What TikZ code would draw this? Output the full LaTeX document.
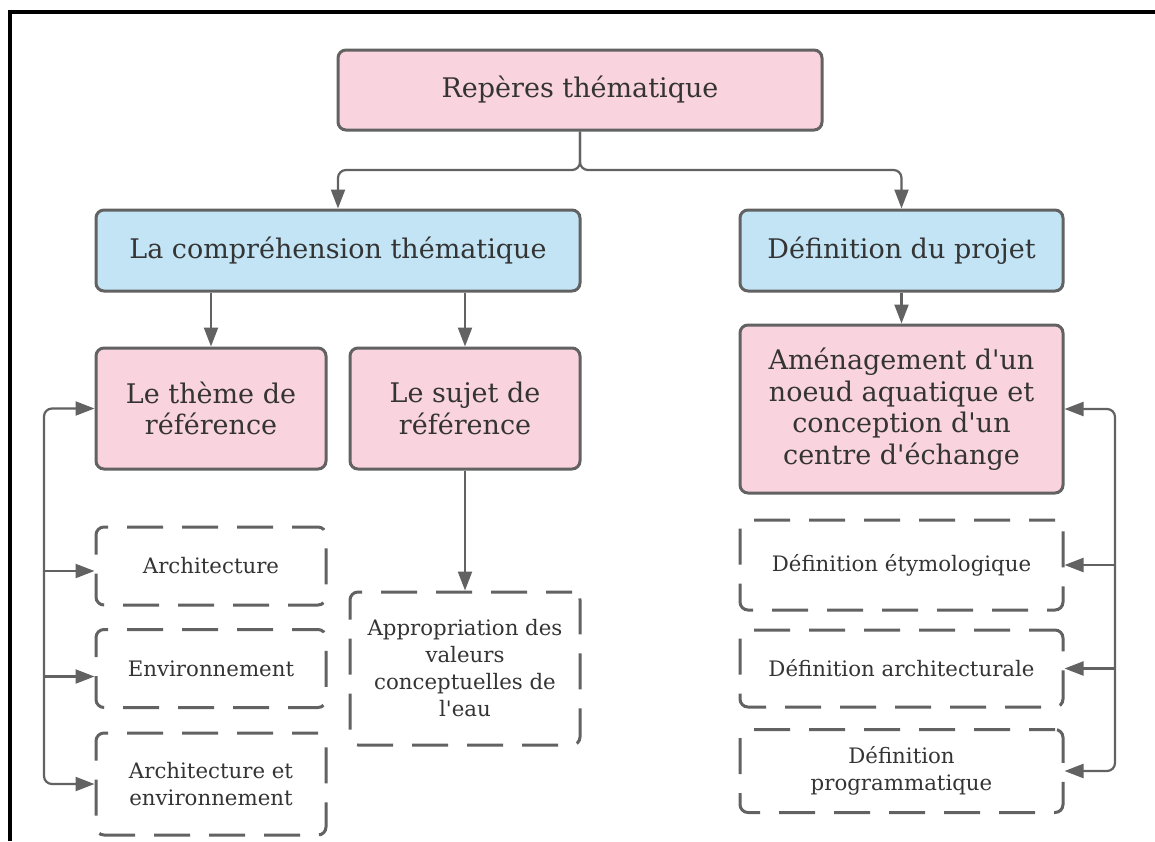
\documentclass[tikz,border=0pt]{standalone}
\usepackage{fontspec}
\setmainfont{DejaVu Serif}[Ligatures=TeXOff]
\usetikzlibrary{arrows.meta,calc}
\definecolor{pinkfill}{RGB}{249,211,222}
\definecolor{bluefill}{RGB}{194,228,245}
\definecolor{edgegray}{RGB}{98,98,98}
\definecolor{txtgray}{RGB}{52,52,52}
\tikzset{
  bigbox/.style={draw=edgegray, line width=3pt, rounded corners=8pt, align=center,
    text=txtgray, font=\fontsize{27}{31.5}\selectfont, inner sep=0pt},
  pinkbox/.style={bigbox, fill=pinkfill},
  bluebox/.style={bigbox, fill=bluefill},
  dashbox/.style={draw=edgegray, line width=3pt, rounded corners=8pt, align=center,
    text=txtgray, font=\fontsize{21.3}{27}\selectfont, inner sep=0pt,
    dash pattern=on 36pt off 19pt, dash phase=10pt},
  arr/.style={draw=edgegray, line width=2.2pt, -{Triangle[length=19pt,width=14pt]}},
}
\begin{document}
\begin{tikzpicture}[x=1pt,y=-1pt]
\useasboundingbox (0,0) rectangle (1155,841);
\fill[white] (0,0) rectangle (1155,841);
\draw[black, line width=4pt] (10,841) -- (10,12) -- (1155,12);

\node[pinkbox, minimum width=484pt, minimum height=80pt] (top) at (580,90) {Repères thématique};
\node[bluebox, minimum width=484pt, minimum height=81pt] (comp) at (338,250.5) {La compréhension thématique};
\node[bluebox, minimum width=323pt, minimum height=81pt] (def) at (901.5,250.5) {Définition du projet};
\node[pinkbox, minimum width=230pt, minimum height=121pt] (theme) at (211,408.5) {Le thème de\\référence};
\node[pinkbox, minimum width=230pt, minimum height=121pt] (sujet) at (465,408.5) {Le sujet de\\référence};
\node[pinkbox, minimum width=323pt, minimum height=168pt] (amen) at (901.5,409) {Aménagement d'un\\noeud aquatique et\\conception d'un\\centre d'échange};

\node[dashbox, minimum width=230pt, minimum height=78pt] (arch) at (211,566) {Architecture};
\node[dashbox, minimum width=230pt, minimum height=78pt] (env) at (211,668.5) {Environnement};
\node[dashbox, minimum width=230pt, minimum height=102pt] (archenv) at (211,784) {Architecture et\\environnement};
\node[dashbox, minimum width=230pt, minimum height=153pt] (appro) at (465,668.5) {Appropriation des\\valeurs\\conceptuelles de\\l'eau};
\node[dashbox, minimum width=323pt, minimum height=90pt] (etym) at (901.5,565) {Définition étymologique};
\node[dashbox, minimum width=323pt, minimum height=77pt] (archi) at (901.5,668.5) {Définition architecturale};
\node[dashbox, minimum width=323pt, minimum height=83pt] (prog) at (901.5,771) {Définition\\programmatique};

% top split
\coordinate (tj) at (580,170);
\draw[arr, rounded corners=8pt] (top.south) -- (tj) -| (comp.north);
\draw[arr, rounded corners=8pt] (top.south) -- (tj) -| (def.north);

% second level
\draw[arr] (comp.south -| theme.north) -- (theme.north);
\draw[arr] (comp.south -| sujet.north) -- (sujet.north);
\draw[arr] (def.south) -- (amen.north);
\draw[arr] (sujet.south) -- (appro.north);

% left bus
\coordinate (lb) at (44,600);
\draw[arr, rounded corners=8pt] (lb) |- (theme.west);
\draw[arr, rounded corners=8pt] (lb) |- (archenv.west);
\draw[arr] (lb |- arch.west) ++(0,5) -- ([yshift=-5pt]arch.west);
\draw[arr] (lb |- env.west) ++(0,8) -- ([yshift=-8pt]env.west);

% right bus
\coordinate (rb) at (1115,600);
\draw[arr, rounded corners=8pt] (rb) |- (amen.east);
\draw[arr, rounded corners=8pt] (rb) |- (prog.east);
\draw[arr] (rb |- etym.east) -- (etym.east);
\draw[arr] (rb |- archi.east) -- (archi.east);
\end{tikzpicture}
\end{document}
